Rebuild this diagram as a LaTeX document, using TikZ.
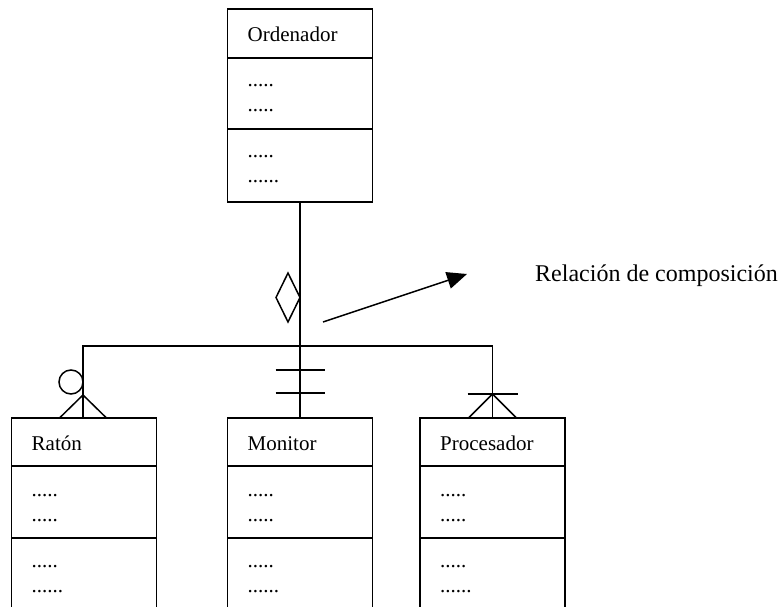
\documentclass[tikz,border=0pt]{standalone}
\usepackage{fontspec}
\setmainfont{Liberation Serif}
\usetikzlibrary{arrows.meta}

\tikzset{
  conn/.style={line width=1.5pt},
  compartment/.style={draw, line width=1.5pt, minimum width=145pt,
    inner sep=0pt, outer sep=0pt, anchor=north},
  classtext/.style={font=\fontsize{21}{24}\selectfont, inner sep=0pt, anchor=base west},
  reltext/.style={font=\fontsize{24}{28}\selectfont, inner sep=0pt, anchor=base west},
}

% UML class box: #1 name, #2 centre x, #3 top y, #4 title,
% #5 header height, #6 attribute height, #7 operation height
\newcommand\umlclass[7]{%
  \node[compartment, minimum height=#5pt] (#1) at (#2,#3) {};
  \node[compartment, minimum height=#6pt] (#1-att) at (#1.south) {};
  \node[compartment, minimum height=#7pt] (#1-op) at (#1-att.south) {};
  \node[classtext] (#1-title) at ([xshift=20pt,yshift=-32.5pt]#1.north west) {#4};
  \node[classtext] (#1-a1) at ([xshift=20pt,yshift=-78pt]#1.north west) {.....};
  \node[classtext] (#1-a2) at ([xshift=20pt,yshift=-103pt]#1.north west) {.....};
  \node[classtext] (#1-o1) at ([xshift=20pt,yshift=-149pt]#1.north west) {.....};
  \node[classtext] (#1-o2) at ([xshift=20pt,yshift=-174pt]#1.north west) {......};
}

\begin{document}
\begin{tikzpicture}[x=1pt, y=-1pt]
  \useasboundingbox (0,0) rectangle (780,607);
  \clip (0,0) rectangle (780,607);

  % classes
  \umlclass{ord}{300}{9}{Ordenador}{49}{71}{73}
  \umlclass{raton}{84}{418}{Ratón}{48}{72}{73}
  \umlclass{mon}{300}{418}{Monitor}{48}{72}{73}
  \umlclass{proc}{492.5}{418}{Procesador}{48}{72}{73}

  % composition tree
  \coordinate (junction) at (300,346);
  \draw[conn] (ord-op.south) -- (mon.north);
  \draw[conn] ([xshift=-1pt]raton.north) -- ([xshift=-1pt]raton.north |- junction)
    -- (proc.north |- junction) -- (proc.north);

  % composition diamond beside the trunk
  \draw[conn] (276,297.5) -- (288,273) -- (300,297.5) -- (288,322) -- cycle;

  % Ratón end: zero or many
  \coordinate (rt) at ([xshift=-1pt]raton.north);
  \draw[conn] ([yshift=23pt]rt) -- ([xshift=-23.5pt]rt);
  \draw[conn] ([yshift=23pt]rt) -- ([xshift=23.5pt]rt);
  \draw[conn] ([xshift=-12pt,yshift=36pt]rt) circle[radius=12pt];

  % Monitor end: exactly one
  \draw[conn] ([xshift=-24.5pt,yshift=48pt]mon.north) -- ([xshift=24.5pt,yshift=48pt]mon.north);
  \draw[conn] ([xshift=-24.5pt,yshift=25pt]mon.north) -- ([xshift=24.5pt,yshift=25pt]mon.north);

  % Procesador end: one or many
  \draw[conn] ([yshift=24pt]proc.north) -- ([xshift=-24pt]proc.north);
  \draw[conn] ([yshift=24pt]proc.north) -- ([xshift=24pt]proc.north);
  \draw[conn] ([xshift=-25pt,yshift=24pt]proc.north) -- ([xshift=25pt,yshift=24pt]proc.north);

  % annotation
  \node[reltext] (rel) at (535,281.5) {Relación de composición};
  \coordinate (ptr-tail) at (323,322);
  \coordinate (ptr-tip) at (467,274);
  \draw[conn, -{Triangle[length=20pt,width=17pt]}] (ptr-tail) -- (ptr-tip);
\end{tikzpicture}
\end{document}
